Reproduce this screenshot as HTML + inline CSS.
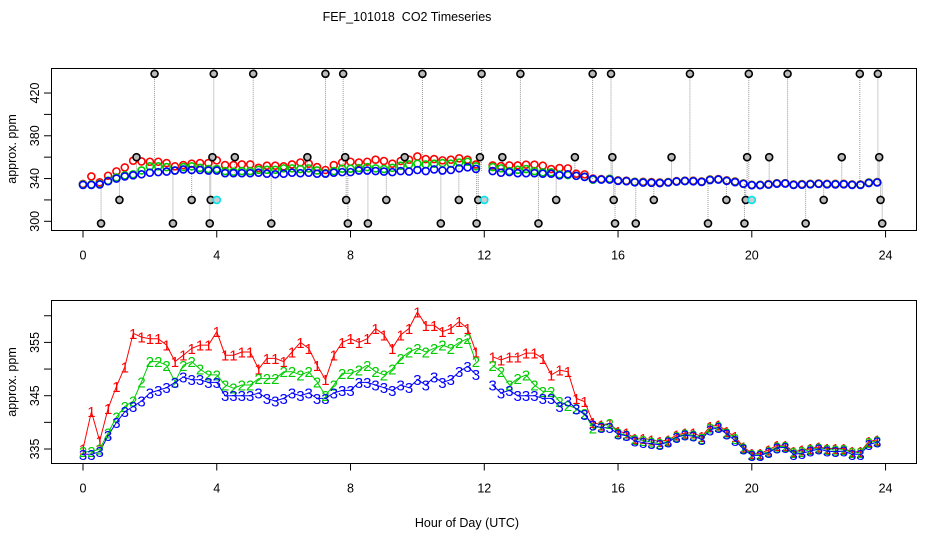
<!DOCTYPE html>
<html><head><meta charset="utf-8">
<style>
html,body{margin:0;padding:0;background:#fff;}
svg{display:block;font-family:"Liberation Sans",sans-serif;}
</style></head>
<body>
<svg id="chart" width="936" height="540" viewBox="0 0 936 540" xmlns="http://www.w3.org/2000/svg">
<text x="407" y="21" font-size="12.5" text-anchor="middle">FEF_101018&#160; CO2 Timeseries</text>
<text x="467" y="527" font-size="12.5" text-anchor="middle">Hour of Day (UTC)</text>
<rect x="51.5" y="68.5" width="865" height="162" fill="none" stroke="#000"/>
<rect x="51.5" y="300.5" width="865" height="163" fill="none" stroke="#000"/>
<text transform="translate(16,149) rotate(-90)" font-size="12.5" text-anchor="middle">approx. ppm</text>
<text transform="translate(16,382) rotate(-90)" font-size="12.5" text-anchor="middle">approx. ppm</text>
<g id="top"></g>
<g id="bot"></g>
</svg>
<script>
const xTicks = [0,4,8,12,16,20,24];
const topYTicks = [300,320,340,360,380,400,420];
const topYLabels = [300,340,380,420];
const botYTicks = [335,340,345,350,355,360];
const botYLabels = [335,345,355];
const hourStep = 0.25;
const series1 = [335,342,336.5,342.6,346.7,350.4,356.7,356,355.7,355.7,354.5,351.4,352.6,353.9,354.5,354.5,
357,352.6,352.6,353.2,353.2,350,352,352,351.4,353.2,355,353.9,350.7,348,352.6,355,
355.7,355,355.7,357.6,356.4,353.9,356.4,357.6,360.7,358.2,358.2,357,357.6,358.9,357.6,353.2,
null,352.3,351.7,352.3,352.3,353,353,352,348.9,349.8,349.5,344.5,343.9,340,339.5,339.8,
338.3,338,337,337,336.7,336.4,336.7,337.6,338,338,337.3,339.2,339.5,338.3,337.3,335.4,
334.2,334.2,334.8,335.7,335.7,334.5,334.8,335.1,335.4,335.1,335.1,335.1,334.5,334.5,336.4,336.7];
const series2 = [334.5,334.5,335,338,341,343,344,347.6,351.4,351.4,350.7,347.6,350.7,351.4,350,348.9,
348.9,347,346.4,347,347,348.2,348.2,348.2,349.5,349.5,348.9,349.5,347.6,345,347,349.2,
349.2,349.8,350.7,349.5,348.9,350,352,353.2,353.9,353.2,353.9,354.5,353.9,355,355.7,351.4,
null,350.7,349.5,347,348.2,348.9,347,345.8,345.8,343.9,343.2,342.6,341.7,338.9,339.2,339.8,
338,337.6,336.8,336.6,336.3,336,336.5,337.3,337.8,337.6,337,338.9,339.2,338,337,335.2,
334,334,334.5,335.4,335.5,334.3,334.5,334.9,335.2,334.9,334.8,334.9,334.3,334.3,336.2,336.5];
const series3 = [334,334,334.5,337.5,340,342,343,344,345.5,346,346.5,347.5,348.5,348,348,347.5,
347.5,345,345,345,345,345.5,344.5,344,344.5,345.5,345,345.5,344.5,344.5,345.5,346,
346,347.5,347.5,347,346.5,346,347,346.5,348,347,348.5,347.5,348,349.5,350.5,349,
null,347,345.5,346,345,345,345,344.5,344.5,343,344,342.5,341.5,339.5,339,339,
337.8,337.5,336.5,336.2,336,335.8,336.3,337.2,337.6,337.4,336.8,338.6,339,337.8,336.6,335,
333.8,333.8,334.3,335.2,335.3,334,334.2,334.6,335,334.6,334.5,334.6,334,334,335.8,336.3];
const outlierHours = [0.54,1.09,1.60,2.14,2.69,3.25,3.79,3.82,3.87,3.91,4.54,5.09,5.63,6.71,7.25,7.78,7.84,7.87,7.92,8.52,9.07,9.62,10.15,10.70,11.24,11.77,11.82,11.87,11.92,12.54,13.08,13.62,14.15,14.71,15.24,15.79,15.83,15.87,15.91,16.53,17.07,17.60,18.15,18.69,19.24,19.78,19.82,19.86,19.91,20.52,21.07,21.61,22.15,22.69,23.23,23.77,23.81,23.85,23.90];
const outlierValues = [298,320,360,438,298,320,298,320,360,438,360,438,298,360,438,438,360,320,298,298,320,360,438,298,320,298,320,360,438,360,438,298,320,360,438,438,360,320,298,298,320,360,438,298,320,298,320,360,438,360,438,298,320,360,438,438,360,320,298];
const flagHours = [4.0,12.0,20.0];
const flagValues = [320,320,320];

const NS = "http://www.w3.org/2000/svg";
const xS = h => 83 + h*33.44;
const yTop = v => 221.3 - (v-300)*1.069;
const yBot = v => 449 - (v-335)*5.33;
function mk(tag, attrs, parent){
  const e = document.createElementNS(NS, tag);
  for (const k in attrs) e.setAttribute(k, attrs[k]);
  parent.appendChild(e);
  return e;
}
const topG = document.getElementById('top');
const botG = document.getElementById('bot');

function axes(g, yFn, yTicks, yLabels, bottom, prefix){
  xTicks.forEach(t=>{
    const l = mk('line',{x1:xS(t),x2:xS(t),y1:bottom,y2:bottom+7,stroke:'#000'},g);
    
    
    const tx = mk('text',{x:xS(t),y:bottom+29,'font-size':12.5,'text-anchor':'middle'},g);
    tx.textContent = t;
    
    
  });
  yTicks.forEach(t=>{
    const l = mk('line',{x1:44,x2:51.5,y1:yFn(t),y2:yFn(t),stroke:'#000'},g);
    
    
  });
  yLabels.forEach(t=>{
    const tx = mk('text',{transform:`translate(39,${yFn(t)}) rotate(-90)`,'font-size':12.5,'text-anchor':'middle'},g);
    tx.textContent = t;
    
    
  });
}
axes(topG, yTop, topYTicks, topYLabels, 230.5, 'top');
axes(botG, yBot, botYTicks, botYLabels, 463.5, 'bottom');

outlierHours.forEach((h,i)=>{
  const idx = Math.min(series3.length-1, Math.round(h/hourStep));
  let base = series3[idx]; if (base==null) base = series3[idx+1];
  const l = mk('line',{x1:xS(h),x2:xS(h),y1:yTop(base),y2:yTop(outlierValues[i]),stroke:'#999','stroke-dasharray':'1,1'},topG);
  
  
});
const colors = ['#ff0000','#00cc00','#0000ff'];
const seriesList = [series1, series2, series3];
seriesList.forEach((s,si)=>{
  s.forEach((v,i)=>{
    if (v==null) return;
    const c = mk('circle',{cx:xS(i*hourStep),cy:yTop(v),r:3.5,fill:'none',stroke:colors[si],'stroke-width':1.6},topG);
    
    
  });
});
outlierHours.forEach((h,i)=>{
  const c = mk('circle',{cx:xS(h),cy:yTop(outlierValues[i]),r:3.5,fill:'#bbb',stroke:'#000','stroke-width':1.6},topG);
  
  
});
flagHours.forEach((h,i)=>{
  const c = mk('circle',{cx:xS(h),cy:yTop(flagValues[i]),r:3.5,fill:'#ccc',stroke:'#00e5ee','stroke-width':1.6},topG);
  
  
});

seriesList.forEach((s,si)=>{
  let d = '', pen = false;
  s.forEach((v,i)=>{
    if (v==null){ pen=false; return; }
    d += (pen?'L':'M') + xS(i*hourStep).toFixed(1) + ' ' + yBot(v).toFixed(1) + ' ';
    pen = true;
  });
  const p = mk('path',{d:d,fill:'none',stroke:colors[si],'stroke-width':1},botG);
  
  
});
seriesList.forEach((s,si)=>{
  s.forEach((v,i)=>{
    if (v==null) return;
    const t = mk('text',{x:xS(i*hourStep),y:yBot(v)+5.5,'font-size':15,'text-anchor':'middle',fill:colors[si]},botG);
    t.textContent = String(si+1);
    
    
  });
});
</script>
</body></html>
